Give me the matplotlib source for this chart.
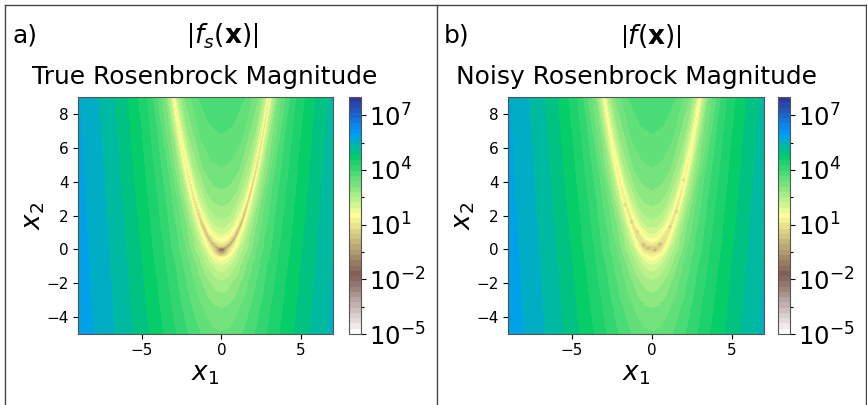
"""Rosenbrock magnitude panels, true vs noisy, on log colour scale."""

import matplotlib
matplotlib.use("Agg")
import matplotlib.pyplot as plt
from matplotlib.lines import Line2D
import numpy as np

# sample rows
x2_rows = [9, 7.5, 6, 5, 4, 3, 2, 1.4, 0.9, 0.5, 0.2, 0, -0.5, -1, -2, -3.5, -5]
# valley position per row (mesh columns follow it so the thin ridge stays thin)
valley_x1 = [3, 2.74, 2.45, 2.24, 2, 1.73, 1.41, 1.18, 0.95, 0.71, 0.45, 0.3, 0.5, 1, 1.4, 1.9, 2.2]
col_far = [9, 8, 7, 6, 5]
col_shoulder = [0.15, 0.4, 0.7]
col_rel = [-1.5, -1.2, -1.07, -1, -0.93, -0.8, -0.5, -0.25, 0, 0.25, 0.5, 0.8, 0.93, 1, 1.07, 1.2, 1.5]

# log10 magnitude at each mesh node, estimated from the colours
log_far_9 = [5.71, 5.73, 5.75, 5.76, 5.77, 5.78, 5.80, 5.80, 5.81, 5.81, 5.81, 5.82, 5.82, 5.83, 5.84, 5.85, 5.87]
log_far_8 = [5.48, 5.50, 5.53, 5.54, 5.56, 5.57, 5.58, 5.59, 5.60, 5.61, 5.61, 5.61, 5.62, 5.63, 5.64, 5.66, 5.68]
log_far_7 = [5.20, 5.24, 5.27, 5.29, 5.31, 5.33, 5.34, 5.36, 5.36, 5.37, 5.38, 5.38, 5.39, 5.40, 5.42, 5.44, 5.46]
log_far_6 = [4.86, 4.91, 4.95, 4.98, 5.01, 5.04, 5.06, 5.08, 5.09, 5.10, 5.11, 5.11, 5.12, 5.14, 5.16, 5.19, 5.23]
log_far_5 = [4.41, 4.49, 4.56, 4.60, 4.64, 4.68, 4.72, 4.75, 4.76, 4.78, 4.79, 4.80, 4.81, 4.83, 4.86, 4.91, 4.95]
log_sh_a = [4.15, 4.04, 3.91, 3.81, 3.68, 3.52, 3.30, 3.13, 2.94, 2.70, 2.38, 2.21, 2.77, 3.42, 3.85, 4.26, 4.49]
log_sh_b = [4.23, 4.19, 4.13, 4.09, 4.04, 3.97, 3.88, 3.80, 3.72, 3.62, 3.49, 3.42, 3.63, 3.95, 4.20, 4.47, 4.64]
log_sh_c = [4.32, 4.34, 4.36, 4.37, 4.37, 4.37, 4.36, 4.34, 4.32, 4.30, 4.26, 4.24, 4.32, 4.44, 4.56, 4.70, 4.80]
log_inner = [
    [4.10, 3.20, 2.23, 1.1, 2.17, 3.02, 3.66, 3.85, 3.91, 3.85, 3.66, 3.02, 2.17, 0.7, 2.23, 3.20, 4.10],
    [3.94, 3.04, 2.07, 1.0, 2.01, 2.86, 3.50, 3.69, 3.75, 3.69, 3.50, 2.86, 2.01, 0.6, 2.07, 3.04, 3.94],
    [3.75, 2.85, 1.88, 1.0, 1.82, 2.67, 3.31, 3.50, 3.56, 3.50, 3.31, 2.67, 1.82, 0.5, 1.88, 2.85, 3.75],
    [3.59, 2.69, 1.72, 0.9, 1.66, 2.51, 3.15, 3.34, 3.40, 3.34, 3.15, 2.51, 1.66, 0.4, 1.72, 2.69, 3.59],
    [3.39, 2.49, 1.52, 0.8, 1.46, 2.31, 2.95, 3.14, 3.20, 3.14, 2.95, 2.31, 1.46, 0.2, 1.52, 2.49, 3.39],
    [3.14, 2.24, 1.27, 0.7, 1.21, 2.06, 2.70, 2.89, 2.95, 2.89, 2.70, 2.06, 1.21, 0.0, 1.27, 2.24, 3.14],
    [2.79, 1.89, 0.92, 0.5, 0.86, 1.71, 2.35, 2.54, 2.60, 2.54, 2.35, 1.71, 0.86, -0.4, 0.92, 1.89, 2.79],
    [2.48, 1.58, 0.61, 0.3, 0.55, 1.40, 2.04, 2.23, 2.29, 2.23, 2.04, 1.40, 0.55, -0.7, 0.61, 1.58, 2.48],
    [2.10, 1.20, 0.40, 0.0, 0.30, 1.02, 1.66, 1.85, 1.91, 1.85, 1.66, 1.02, 0.17, -1.0, 0.23, 1.20, 2.10],
    [1.59, 0.75, 0.20, -0.5, 0.10, 0.55, 1.15, 1.34, 1.40, 1.34, 1.15, 0.51, -0.34, -1.1, -0.28, 0.69, 1.59],
    [0.85, 0.30, -0.30, -1.2, -0.40, -0.10, 0.40, 0.65, 0.75, 0.65, 0.40, -0.29, -0.60, -1.4, -0.50, -0.11, 0.79],
    [0.61, 0.22, 0.03, -0.09, -0.22, -0.48, -1.30, -1.60, -1.70, -1.60, -1.30, -0.48, -0.22, -0.09, 0.03, 0.22, 0.61],
    [2.05, 1.87, 1.79, 1.75, 1.71, 1.64, 1.50, 1.42, 1.40, 1.42, 1.50, 1.64, 1.71, 1.75, 1.79, 1.87, 2.05],
    [3.02, 2.77, 2.66, 2.60, 2.54, 2.43, 2.19, 2.05, 2.00, 2.05, 2.19, 2.43, 2.54, 2.60, 2.66, 2.77, 3.02],
    [3.61, 3.37, 3.26, 3.20, 3.13, 3.02, 2.79, 2.65, 2.60, 2.65, 2.79, 3.02, 3.13, 3.20, 3.26, 3.37, 3.61],
    [4.13, 3.88, 3.76, 3.70, 3.64, 3.53, 3.29, 3.14, 3.09, 3.14, 3.29, 3.53, 3.64, 3.70, 3.76, 3.88, 4.13],
    [4.40, 4.16, 4.04, 3.99, 3.93, 3.82, 3.59, 3.45, 3.40, 3.45, 3.59, 3.82, 3.93, 3.99, 4.04, 4.16, 4.40],
]

# noisy panel: valley floor stays near 10^1 and only dips close to the origin
noisy_floor_left = [1.2, 1.2, 1.1, 1.1, 1.0, 1.0, 0.9, 0.9, 0.8, 0.6, 0.5, 0.4]
noisy_floor_right = [1.1, 1.1, 1.1, 1.0, 1.0, 0.9, 0.9, 0.8, 0.8, 0.6, 0.5, 0.4]
# rough darker flecks along the noisy valley
speck_x1 = [-1.69, -1.27, -0.92, -0.54, -0.23, 0.19, 0.5, 1.12, 1.54, 1.96]
speck_x2 = [2.62, 1.63, 1.04, 0.26, 0.06, -0.04, 0.32, 1.34, 2.23, 4.1]
speck_val = [0.7, 0.5, 0.5, 0.2, 0.1, 0.0, 0.1, 0.5, 0.6, 0.8]

cbar_ticks = [-5, -2, 1, 4, 7]
cbar_minor = [-3.5, -0.5, 2.5, 5.5]
x_ticks = [-5, 0, 5]
y_ticks = [-4, -2, 0, 2, 4, 6, 8]

W, H = 867, 405


def px_axes(fig, left, top, right, bottom):
    return fig.add_axes([left / W, 1 - bottom / H, (right - left) / W, (bottom - top) / H])


def build_field(inner):
    """Stack the far, shoulder and inner columns left to right (x1 = 7 is the right edge)."""
    inner = np.array(inner)
    left = [log_far_9, log_far_8, log_far_7, log_far_6, log_far_5, log_sh_c, log_sh_b, log_sh_a]
    right = [log_sh_a, log_sh_b, log_sh_c, log_far_5, log_far_6, log_far_7]
    return np.hstack([np.array(left).T, inner, np.array(right).T])


def build_x1_row(v):
    mid = 1.5 * v
    sh = [mid + f * (5 - mid) for f in col_shoulder]
    lhs = [-c for c in col_far] + [-s for s in reversed(sh)]
    rhs = sh + [5, 6, 7]
    return lhs + [r * v for r in col_rel] + rhs


x1_mesh = np.array([build_x1_row(v) for v in valley_x1])
x2_mesh = np.array([[y] * x1_mesh.shape[1] for y in x2_rows])

noisy_inner = np.array(log_inner)
for i, (a, b) in enumerate(zip(noisy_floor_left, noisy_floor_right)):
    # nothing near the valley sits below the noisy floor
    noisy_inner[i] = np.maximum(noisy_inner[i], min(a, b) + 0.2)
    noisy_inner[i, 3] = a
    noisy_inner[i, 13] = b

z_true = build_field(log_inner)
z_noisy = build_field(noisy_inner)

levels = np.linspace(-5, 8, 46)

fig = plt.figure(figsize=(W / 100, H / 100), dpi=100)

panels = [
    (78, 333, 349, 361, z_true, "a)", 13, r"$\left|f_s(\mathbf{x})\right|$", 222, "True Rosenbrock Magnitude", 205),
    (508, 764, 778, 790, z_noisy, "b)", 444, r"$\left|f(\mathbf{x})\right|$", 651, "Noisy Rosenbrock Magnitude", 636),
]

for left, right, cl, cr, z, tag, tag_x, head, head_x, title, title_x in panels:
    ax = px_axes(fig, left, 97, right, 334)
    cf = ax.contourf(x1_mesh, x2_mesh, z, levels=levels, cmap="terrain_r", vmin=-5, vmax=8)
    if tag == "b)":
        ax.scatter(speck_x1, speck_x2, c=speck_val, s=6, cmap="terrain_r", vmin=-5, vmax=8,
                   linewidths=0, alpha=0.8)
    ax.set_xlim(-9, 7)
    ax.set_ylim(-5, 9)
    ax.set_xticks(x_ticks)
    ax.set_yticks(y_ticks)
    ax.tick_params(labelsize=11, length=3.5, width=0.8, pad=3)
    for s in ax.spines.values():
        s.set_color("#555555")
    ax.set_xlabel(r"$x_1$", fontsize=19, labelpad=2)
    ax.set_ylabel(r"$x_2$", fontsize=19, labelpad=0)

    cax = px_axes(fig, cl, 97, cr, 334)
    cb = fig.colorbar(cf, cax=cax)
    cb.set_ticks(cbar_ticks, labels=[f"$10^{{{t}}}$" for t in cbar_ticks])
    cb.ax.set_yticks(cbar_minor, minor=True)
    cb.ax.tick_params(which="major", labelsize=17.5, length=3.5, width=0.8, pad=2)
    cb.ax.tick_params(which="minor", length=2, width=0.8)
    cb.outline.set_edgecolor("#555555")

    fig.text(tag_x / W, 1 - 36 / H, tag, fontsize=18, ha="left", va="center")
    fig.text(head_x / W, 1 - 36 / H, head, fontsize=19, ha="center", va="center")
    fig.text(title_x / W, 1 - 77 / H, title, fontsize=17.9, ha="center", va="center")

# panel frame lines
frame = "#444444"
for xs, ys in [((5, 5), (5, 405)), ((5, 867), (5, 5)), ((437, 437), (5, 405)), ((866, 866), (5, 405))]:
    fig.add_artist(Line2D([x / W for x in xs], [1 - y / H for y in ys], color=frame, lw=1))

fig.savefig("out.png", dpi=100)
plt.close(fig)
